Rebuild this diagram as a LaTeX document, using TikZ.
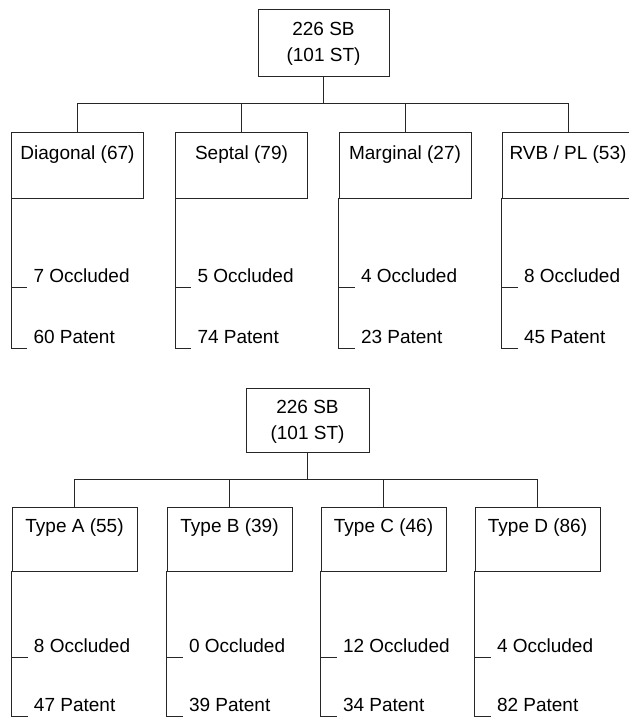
\documentclass[tikz,border=0pt]{standalone}
\usepackage{fontspec}
\setmainfont{Liberation Sans}
\begin{document}
\begin{tikzpicture}[x=1pt,y=-1pt,
  line width=0.8pt, draw=black!85,
  txt/.style={font=\fontsize{19}{26}\selectfont, inner sep=0pt},
  rootbox/.style={draw, minimum width=#1, minimum height=66pt, inner sep=0pt},
  catbox/.style={draw, minimum width=#1, inner sep=0pt},
  leaf/.style={txt, anchor=west}]
\useasboundingbox (0,0) rectangle (629,718);
\clip (0,0) rectangle (629,718);
% ---------- top tree ----------
\node[rootbox=131pt, minimum height=67pt] (r1) at (323.5,42.5) {};
\node[txt, align=center] (r1t) at (323.5,44) {226 SB\\(101 ST)};
\coordinate (r1j) at (323.5,103);
\foreach \n/\x/\t/\o/\p in {
  a/77.5/{Diagonal (67)}/7/60,
  b/241.5/{Septal (79)}/5/74,
  c/405/{Marginal (27)}/4/23,
  d/568/{RVB / PL (53)}/8/45}{
  \node[catbox=132pt, minimum height=66pt] (\n) at (\x,165) {};
  \node[txt] (\n t) at (\x,155) {\t};
  \coordinate (\n j) at (\x,103);
  \coordinate (\n o) at ([xshift=16pt]\n.south west |- 0,287);
  \coordinate (\n p) at ([xshift=16pt]\n.south west |- 0,348);
  \node[leaf] (\n ol) at ([xshift=22pt]\n.south west |- 0,276) {\o{} Occluded};
  \node[leaf] (\n pl) at ([xshift=22pt]\n.south west |- 0,337) {\p{} Patent};
  \draw (\n j) -- (\n.north);
  \draw (\n.south west) |- (\n p);
  \draw (\n.south west |- \n o) -- (\n o);
}
\draw (r1.south) -- (r1j);
\draw (aj) -- (dj);
% ---------- bottom tree ----------
\node[rootbox=123pt, minimum height=64pt] (r2) at (307.5,420) {};
\node[txt, align=center] (r2t) at (307.5,421.5) {226 SB\\(101 ST)};
\coordinate (r2j) at (307.5,479);
\foreach \n/\x/\t/\o/\p in {
  e/74.5/{Type A (55)}/8/47,
  f/229.5/{Type B (39)}/0/39,
  g/383.5/{Type C (46)}/12/34,
  h/537.5/{Type D (86)}/4/82}{
  \node[catbox=125pt, minimum height=64pt] (\n) at (\x,539) {};
  \node[txt] (\n t) at (\x,528) {\t};
  \coordinate (\n j) at (\x,479);
  \coordinate (\n o) at ([xshift=16pt]\n.south west |- 0,657);
  \coordinate (\n p) at ([xshift=16pt]\n.south west |- 0,716);
  \node[leaf] (\n ol) at ([xshift=22pt]\n.south west |- 0,646) {\o{} Occluded};
  \node[leaf] (\n pl) at ([xshift=22pt]\n.south west |- 0,705) {\p{} Patent};
  \draw (\n j) -- (\n.north);
  \draw (\n.south west) |- (\n p);
  \draw (\n.south west |- \n o) -- (\n o);
}
\draw (r2.south) -- (r2j);
\draw (ej) -- (hj);
\end{tikzpicture}
\end{document}
